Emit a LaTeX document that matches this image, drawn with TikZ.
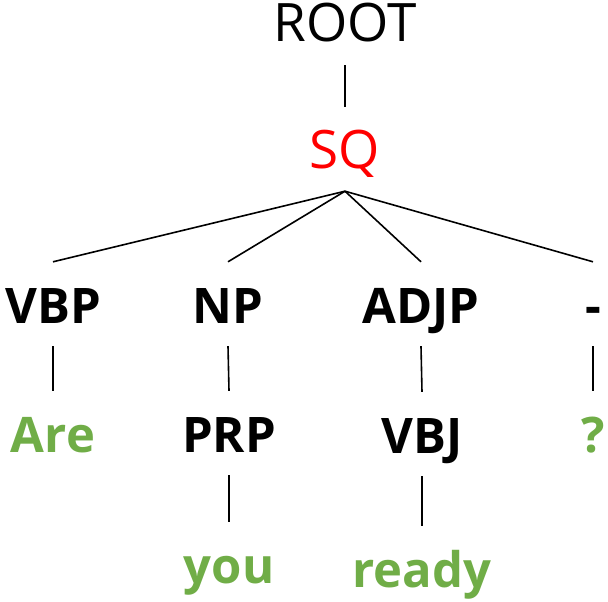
\documentclass[tikz,border=0pt]{standalone}
\usepackage{fontspec}
\setmainfont{Open Sans}
\definecolor{leafgreen}{HTML}{70AD47}
\definecolor{tagred}{HTML}{FF0000}
\begin{document}
\begin{tikzpicture}[x=1pt,y=-1pt,
  lbl/.style={anchor=base, inner xsep=2pt, inner ysep=23pt,
    text height=38pt, text depth=0pt, font=\fontsize{53}{60}\selectfont},
  tag/.style={lbl, font=\fontsize{49}{58}\selectfont\bfseries},
  word/.style={tag, text=leafgreen},
  edge/.style={line width=1.6pt}]
  \useasboundingbox (0,0) rectangle (608,602);
  % phrase structure labels
  \node[lbl] (root) at (345,42) {ROOT};
  \node[lbl, text=tagred] (sq) at (345,168) {SQ};
  \node[tag] (vbp) at (53,323) {VBP};
  \node[tag] (np) at (228,323) {NP};
  \node[tag] (adjp) at (421,323) {ADJP};
  \node[tag] (dash) at (593,323) {-};
  \node[word] (are) at (53,452) {Are};
  \node[tag] (prp) at (229,452) {PRP};
  \node[tag] (vbj) at (422,453) {VBJ};
  \node[word] (qm) at (593,452) {?};
  \node[word] (you) at (229,583) {you};
  \node[word] (ready) at (422,587) {ready};
  % tree edges
  \draw[edge] (root.south) -- (sq.north);
  \draw[edge] (sq.south) -- (vbp.north);
  \draw[edge] (sq.south) -- (np.north);
  \draw[edge] (sq.south) -- (adjp.north);
  \draw[edge] (sq.south) -- (dash.north);
  \draw[edge] (vbp.south) -- (are.north);
  \draw[edge] (np.south) -- (prp.north);
  \draw[edge] (adjp.south) -- (vbj.north);
  \draw[edge] (dash.south) -- (qm.north);
  \draw[edge] (prp.south) -- (you.north);
  \draw[edge] (vbj.south) -- (ready.north);
\end{tikzpicture}
\end{document}
